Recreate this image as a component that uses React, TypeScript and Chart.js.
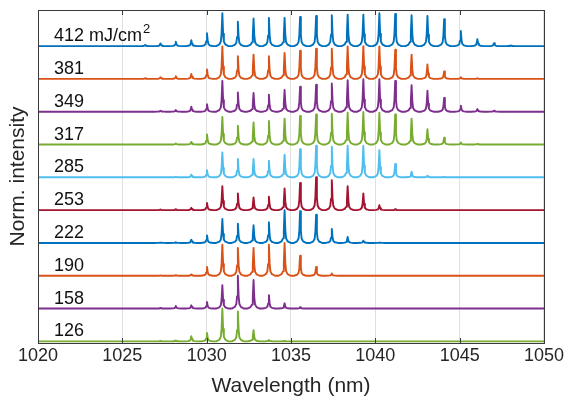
import React, { useEffect, useRef } from "react";
import { Chart, registerables } from "chart.js";

Chart.register(...registerables);

// Comb of peak wavelengths (nm)
const COMB = [
  1026.35, 1027.26, 1028.17, 1029.09, 1030.02, 1030.93, 1031.85, 1032.78,
  1033.69, 1034.62, 1035.54, 1036.49, 1037.42, 1038.36, 1039.29, 1040.24,
  1041.18, 1042.15, 1043.09, 1044.08, 1045.07, 1046.05, 1047.04, 1048.03,
];

// Normalized peak heights at each comb position, per fluence (mJ/cm²)
const H412 = [0.03, 0.08, 0.13, 0.18, 0.39, 1.0, 0.74, 0.84, 0.86, 0.86, 0.89, 0.92, 0.94, 0.96, 0.96, 1.0, 0.98, 0.94, 0.92, 0.82, 0.46, 0.21, 0.09, 0.02];
const H381 = [0.02, 0.05, 0.08, 0.15, 0.29, 0.99, 0.69, 0.74, 0.69, 0.79, 0.86, 0.92, 0.92, 0.99, 1.0, 0.99, 0.89, 0.74, 0.44, 0.23, 0.05, 0.02, 0, 0];
const H349 = [0, 0.03, 0.05, 0.15, 0.23, 0.94, 0.59, 0.57, 0.52, 0.66, 0.76, 0.82, 0.86, 0.96, 0.99, 0.99, 0.94, 0.81, 0.64, 0.42, 0.18, 0.08, 0.03, 0];
const H317 = [0, 0, 0.03, 0.08, 0.31, 0.84, 0.57, 0.67, 0.72, 0.79, 0.87, 0.92, 0.94, 0.97, 0.99, 0.97, 0.92, 0.79, 0.47, 0.21, 0.06, 0.02, 0, 0];
const H285 = [0, 0, 0.02, 0.08, 0.22, 0.76, 0.56, 0.56, 0.51, 0.69, 0.86, 0.96, 0.93, 0.96, 0.96, 0.83, 0.41, 0.17, 0.05, 0.01, 0, 0, 0, 0];
const H253 = [0, 0.02, 0.03, 0.07, 0.22, 0.73, 0.51, 0.39, 0.41, 0.66, 0.83, 1.0, 0.91, 0.73, 0.51, 0.15, 0.03, 0, 0, 0, 0, 0, 0, 0];
const H222 = [0, 0.01, 0.02, 0.1, 0.23, 0.73, 0.59, 0.54, 0.63, 1.0, 0.97, 0.86, 0.43, 0.18, 0.07, 0.01, 0, 0, 0, 0, 0, 0, 0, 0];
const H190 = [0, 0.01, 0.02, 0.04, 0.27, 0.95, 0.85, 0.85, 0.95, 1.0, 0.61, 0.27, 0.07, 0, 0, 0, 0, 0, 0, 0, 0, 0, 0, 0];
const H158 = [0, 0.02, 0.08, 0.1, 0.2, 0.71, 1.0, 0.87, 0.41, 0.16, 0.04, 0, 0, 0, 0, 0, 0, 0, 0, 0, 0, 0, 0, 0];
const H126 = [0, 0.01, 0.03, 0.16, 0.26, 1.0, 0.91, 0.34, 0.04, 0.01, 0, 0, 0, 0, 0, 0, 0, 0, 0, 0, 0, 0, 0, 0];

const TRACES = [H412, H381, H349, H317, H285, H253, H222, H190, H158, H126];
const TRACE_LABELS = ["412", "381", "349", "317", "285", "253", "222", "190", "158", "126"];
const COLORS = ["#0072BD", "#D95319", "#7E2F8E", "#77AC30", "#4DBEEE", "#A2142F", "#0072BD", "#D95319", "#7E2F8E", "#77AC30"];

// Line profile of a single comb line (offset in nm, relative height)
const PEAK_OFFSETS = [-0.36, -0.18, -0.09, -0.045, 0, 0.045, 0.09, 0.18, 0.36];
const PEAK_PROFILE = [0, 0.05, 0.14, 0.38, 1, 0.38, 0.14, 0.05, 0];

const X_MIN = 1020;
const X_MAX = 1050;
const X_STEP = 5;
const Y_MIN = -0.05;
const Y_MAX = 10.1;

const FONT = '"Liberation Sans", Arial, Helvetica, sans-serif';

function buildTrace(heights: number[], offset: number) {
  const pts: { x: number; y: number }[] = [{ x: X_MIN, y: offset }];
  COMB.forEach((c, k) => {
    const h = heights[k];
    if (!h) return;
    PEAK_OFFSETS.forEach((d, j) => {
      pts.push({ x: c + d, y: offset + h * PEAK_PROFILE[j] });
    });
  });
  pts.push({ x: X_MAX, y: offset });
  return pts;
}

const framePlugin = {
  id: "frame",
  afterDatasetsDraw(chart: any) {
    const { ctx, chartArea } = chart;
    const xs = chart.scales.x;
    const ys = chart.scales.y;
    const { left, right, top, bottom } = chartArea;
    ctx.save();
    // trace labels
    ctx.fillStyle = "#111";
    ctx.textAlign = "left";
    ctx.textBaseline = "alphabetic";
    const n = TRACES.length;
    TRACE_LABELS.forEach((lab, i) => {
      const yb = ys.getPixelForValue(n - 1 - i) - 5;
      ctx.font = `18px ${FONT}`;
      if (i === 0) {
        const main = lab + " mJ/cm";
        ctx.fillText(main, 54, yb);
        const w = ctx.measureText(main).width;
        ctx.font = `13px ${FONT}`;
        ctx.fillText("2", 54 + w + 1, yb - 8);
      } else {
        ctx.fillText(lab, 54, yb);
      }
    });
    // box
    ctx.strokeStyle = "#3a3a3a";
    ctx.lineWidth = 1;
    ctx.strokeRect(Math.round(left) + 0.5, Math.round(top) + 0.5, Math.round(right - left), Math.round(bottom - top));
    // inward ticks
    for (let v = X_MIN; v <= X_MAX; v += X_STEP) {
      const px = Math.round(xs.getPixelForValue(v)) + 0.5;
      ctx.beginPath();
      ctx.moveTo(px, bottom);
      ctx.lineTo(px, bottom - 5);
      ctx.moveTo(px, top);
      ctx.lineTo(px, top + 5);
      ctx.stroke();
    }
    ctx.restore();
  },
};

export default function App() {
  const ref = useRef<HTMLCanvasElement>(null);
  useEffect(() => {
    document.body.style.margin = "0";
    const n = TRACES.length;
    const datasets = TRACES.map((h, i) => ({
      label: TRACE_LABELS[i],
      data: buildTrace(h, n - 1 - i),
      borderColor: COLORS[i],
      borderWidth: 1.9,
      borderJoinStyle: "round" as const,
      borderCapStyle: "round" as const,
      pointRadius: 0,
      fill: false,
      tension: 0,
      order: n - 1 - i,
    }));
    const chart = new Chart(ref.current as HTMLCanvasElement, {
      type: "line",
      data: { datasets },
      options: {
        animation: false,
        responsive: false,
        layout: { padding: { top: 10, right: 21, left: 0, bottom: 0 } },
        plugins: { legend: { display: false }, tooltip: { enabled: false } },
        scales: {
          x: {
            type: "linear",
            min: X_MIN,
            max: X_MAX,
            ticks: {
              stepSize: X_STEP,
              color: "#262626",
              font: { family: FONT, size: 18 },
              padding: 2,
              maxRotation: 0,
              callback: (v: any) => String(v),
            },
            grid: { color: "rgba(0,0,0,0.12)", drawTicks: false },
            border: { display: false },
            title: {
              display: true,
              text: "Wavelength (nm)",
              color: "#262626",
              font: { family: FONT, size: 21 },
              padding: { top: 0, bottom: 4 },
            },
            afterFit: (s: any) => {
              s.height = 60;
            },
          },
          y: {
            type: "linear",
            min: Y_MIN,
            max: Y_MAX,
            ticks: { display: false },
            grid: { display: false, drawTicks: false },
            border: { display: false },
            title: {
              display: true,
              text: "Norm. intensity",
              color: "#262626",
              font: { family: FONT, size: 21 },
              padding: { top: 6, bottom: 0 },
            },
            afterFit: (s: any) => {
              s.width = 38;
            },
          },
        },
      },
      plugins: [framePlugin],
    });
    return () => chart.destroy();
  }, []);
  return (
    <div style={{ width: 566, height: 403, background: "#fff" }}>
      <canvas ref={ref} width={566} height={403} />
    </div>
  );
}
